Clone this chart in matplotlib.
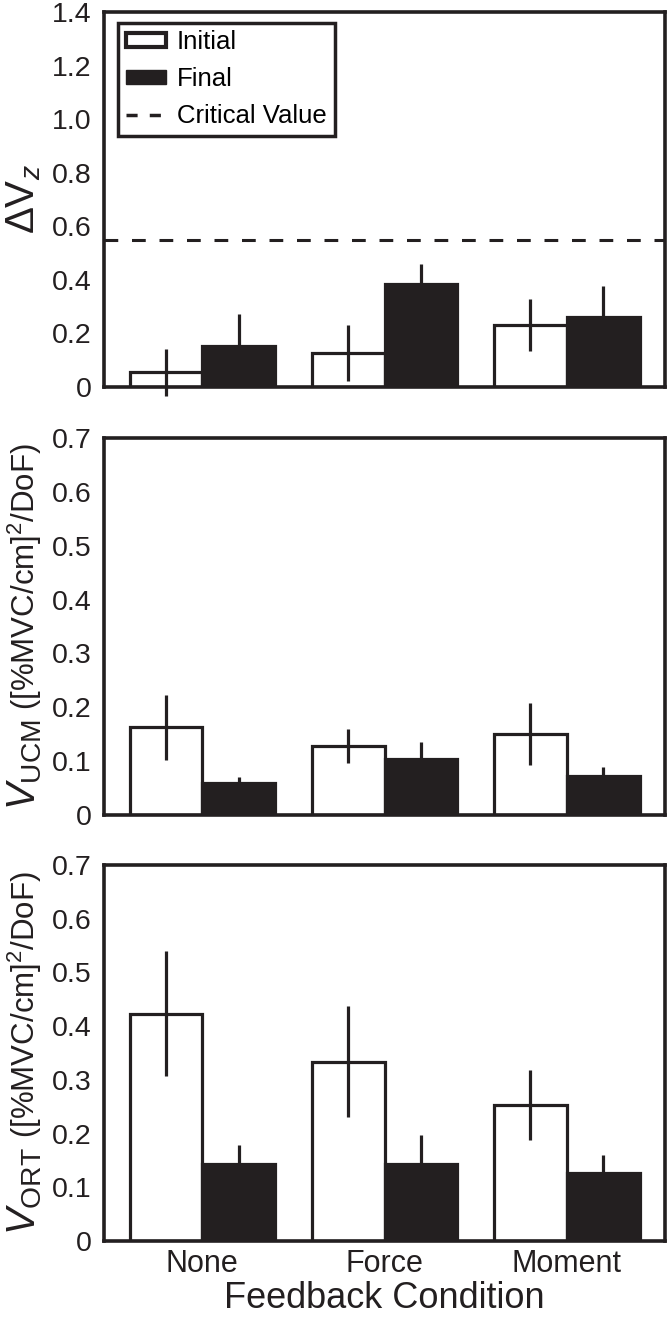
import numpy as np
import matplotlib
matplotlib.use("Agg")
import matplotlib.pyplot as plt
from matplotlib.patches import Patch
from matplotlib.lines import Line2D
from matplotlib.ticker import FuncFormatter

plt.rcParams['font.family'] = ['Liberation Sans', 'DejaVu Sans']
plt.rcParams['mathtext.fontset'] = 'custom'
plt.rcParams['mathtext.rm'] = 'Liberation Sans'
plt.rcParams['mathtext.it'] = 'Liberation Sans:italic'
plt.rcParams['mathtext.bf'] = 'Liberation Sans:bold'

# data
conditions = ['None', 'Force', 'Moment']

dvz_initial = [0.055, 0.126, 0.231]
dvz_initial_err = [0.087, 0.105, 0.098]
dvz_final = [0.154, 0.384, 0.262]
dvz_final_err = [0.118, 0.074, 0.115]
critical_value = 0.55

ucm_initial = [0.163, 0.128, 0.150]
ucm_initial_err = [0.060, 0.031, 0.058]
ucm_final = [0.060, 0.104, 0.072]
ucm_final_err = [0.011, 0.032, 0.017]

ort_initial = [0.423, 0.334, 0.253]
ort_initial_err = [0.116, 0.103, 0.065]
ort_final = [0.143, 0.143, 0.127]
ort_final_err = [0.036, 0.054, 0.033]

dark = '#231f20'
lw = 2.3
W, H = 668, 1317

fig = plt.figure(figsize=(W / 100, H / 100), dpi=100)

def px_axes(top, bottom, left=104, right=665):
    return fig.add_axes([left / W, 1 - bottom / H, (right - left) / W, (bottom - top) / H])

ax1 = px_axes(12, 387)
ax2 = px_axes(438, 815)
ax3 = px_axes(865, 1241)

fmt = FuncFormatter(lambda v, p: '0' if abs(v) < 1e-9 else f'{v:.1f}')
x = np.arange(len(conditions))
bw = 0.4

def draw_panel(ax, init, init_err, fin, fin_err, ymax, step):
    ax.bar(x - bw / 2, init, bw, facecolor='white', edgecolor=dark, linewidth=lw, zorder=2)
    ax.bar(x + bw / 2, fin, bw, facecolor=dark, edgecolor=dark, linewidth=lw, zorder=2)
    ax.errorbar(x - bw / 2, init, yerr=init_err, fmt='none', ecolor=dark, elinewidth=lw,
                capsize=0, zorder=3, clip_on=False)
    ax.errorbar(x + bw / 2, fin, yerr=fin_err, fmt='none', ecolor=dark, elinewidth=lw,
                capsize=0, zorder=3, clip_on=False)
    ax.set_xlim(-0.54, 2.54)
    ax.set_ylim(0, ymax)
    ax.set_yticks(np.arange(0, ymax + 1e-9, step))
    ax.yaxis.set_major_formatter(fmt)
    ax.tick_params(axis='y', length=0, pad=9, labelsize=20.5, colors=dark)
    ax.tick_params(axis='x', length=0, pad=6, labelsize=22, colors=dark)
    ax.set_xticks(x)
    ax.set_xticklabels([])
    for s in ax.spines.values():
        s.set_linewidth(lw + 0.3)
        s.set_color(dark)
        s.set_zorder(4)

draw_panel(ax1, dvz_initial, dvz_initial_err, dvz_final, dvz_final_err, 1.4, 0.2)
draw_panel(ax2, ucm_initial, ucm_initial_err, ucm_final, ucm_final_err, 0.7, 0.1)
draw_panel(ax3, ort_initial, ort_initial_err, ort_final, ort_final_err, 0.7, 0.1)

ax1.axhline(critical_value, color=dark, linewidth=2.2, dashes=(4.5, 4.5), zorder=1)

handles = [Patch(facecolor='white', edgecolor=dark, linewidth=3),
           Patch(facecolor=dark, edgecolor=dark),
           Line2D([], [], color=dark, linewidth=2.5, dashes=(3.2, 3.5))]
leg = ax1.legend(handles, ['Initial', 'Final', 'Critical Value'], loc='upper left',
                 bbox_to_anchor=(0.025, 0.972), borderaxespad=0, fontsize=18.5,
                 fancybox=False, framealpha=1, handlelength=1.55, handleheight=0.5,
                 handletextpad=0.45, labelspacing=0.5, borderpad=0.3)
leg.get_frame().set_edgecolor(dark)
leg.get_frame().set_linewidth(2.5)
leg.set_zorder(5)

ax3.set_xticklabels(conditions)
ax3.set_xlabel('Feedback Condition', fontsize=26, color=dark, labelpad=1)

# y labels built from parts of different sizes, stacked bottom to top
def stacked_ylabel(ax, parts, x_px, gap=0):
    texts = [fig.text(0, 0, s, fontsize=size, rotation=90, rotation_mode='anchor',
                      ha='left', va='baseline', color=dark) for s, size in parts]
    fig.canvas.draw()
    r = fig.canvas.get_renderer()
    lengths = [t.get_window_extent(r).height for t in texts]
    bb = ax.get_window_extent(r)
    total = sum(lengths) + gap * (len(texts) - 1)
    y0 = (bb.y0 + bb.y1) / 2 - total / 2
    for t, L in zip(texts, lengths):
        t.set_position((x_px / W, y0 / H))
        y0 += L + gap

stacked_ylabel(ax1, [(r'$\Delta\mathrm{V}_{z}$', 29)], 34)
stacked_ylabel(ax2, [(r'$V_{\mathrm{UCM}}$', 29), (r'([%MVC/cm]$^2$/DoF)', 22.5)], 35, gap=9)
stacked_ylabel(ax3, [(r'$V_{\mathrm{ORT}}$', 29), (r'([%MVC/cm]$^2$/DoF)', 22.5)], 35, gap=9)

fig.savefig('out.png', dpi=100)
